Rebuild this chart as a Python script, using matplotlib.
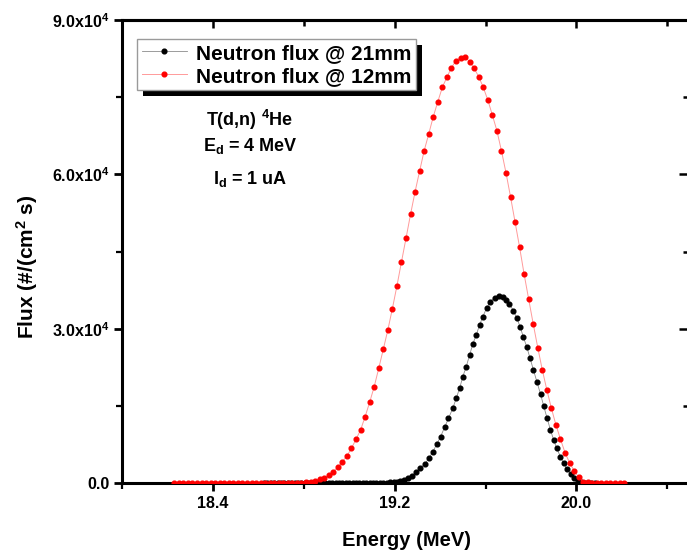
import matplotlib
matplotlib.use("Agg")
import matplotlib.pyplot as plt
from matplotlib.patches import Rectangle
from matplotlib.ticker import MultipleLocator, FuncFormatter
from matplotlib.transforms import IdentityTransform

# Neutron flux @ 12mm (red)
red_energy = [
    18.23, 18.25, 18.27, 18.29, 18.31, 18.33, 18.35, 18.37, 18.39, 18.41,
    18.43, 18.45, 18.47, 18.49, 18.51, 18.53, 18.55, 18.57, 18.59, 18.61,
    18.63, 18.65, 18.67, 18.69, 18.71, 18.73, 18.75, 18.77, 18.79, 18.81,
    18.83, 18.85, 18.87, 18.89, 18.91, 18.93, 18.95, 18.97, 18.99, 19.01,
    19.03, 19.05, 19.07, 19.09, 19.11, 19.13, 19.15, 19.17, 19.19, 19.21,
    19.23, 19.25, 19.27, 19.29, 19.31, 19.33, 19.35, 19.37, 19.39, 19.41,
    19.43, 19.45, 19.47, 19.49, 19.51, 19.53, 19.55, 19.57, 19.59, 19.61,
    19.63, 19.65, 19.67, 19.69, 19.71, 19.73, 19.75, 19.77, 19.79, 19.81,
    19.83, 19.85, 19.87, 19.89, 19.91, 19.93, 19.95, 19.97, 19.99, 20.01,
    20.03, 20.05, 20.07, 20.09, 20.11, 20.13, 20.15, 20.17, 20.19, 20.21,
]
red_flux = [
    0, 0, 0, 0, 0, 0, 0, 0, 0, 0,
    0, 0, 0, 0, 0, 0, 0, 0, 0, 0,
    0, 0, 0, 5, 10, 15, 25, 40, 70, 120,
    200, 450, 720, 1030, 1560, 2200, 3050, 4140, 5250, 6750,
    8500, 10300, 12890, 15690, 18720, 22300, 25990, 29740, 33880, 38300,
    42960, 47570, 52230, 56630, 60650, 64600, 67840, 71210, 74120, 76920,
    78870, 80730, 82100, 82700, 82800, 81900, 80610, 78980, 76920, 74450,
    71540, 68490, 64600, 60320, 55650, 50740, 45820, 40570, 35710, 30910,
    26300, 21970, 18080, 14520, 11280, 8500, 5890, 3950, 2390, 1110,
    250, 100, 40, 15, 5, 0, 0, 0, 0, 0,
]

# Neutron flux @ 21mm (black)
black_energy = [
    18.625, 18.640, 18.655, 18.670, 18.685, 18.700, 18.715, 18.730, 18.745, 18.760,
    18.775, 18.790, 18.805, 18.820, 18.835, 18.850, 18.865, 18.880, 18.895, 18.910,
    18.925, 18.940, 18.955, 18.970, 18.985, 19.000, 19.015, 19.030, 19.045, 19.060,
    19.075, 19.090, 19.105, 19.120, 19.135, 19.150, 19.165, 19.180, 19.195, 19.210,
    19.225, 19.240, 19.258, 19.278, 19.295, 19.313, 19.332, 19.351, 19.368, 19.386,
    19.402, 19.420, 19.437, 19.456, 19.471, 19.486, 19.500, 19.515, 19.530, 19.544,
    19.559, 19.574, 19.588, 19.606, 19.621, 19.640, 19.658, 19.676, 19.691, 19.705,
    19.723, 19.738, 19.753, 19.767, 19.782, 19.796, 19.811, 19.826, 19.842, 19.856,
    19.871, 19.886, 19.900, 19.913, 19.930, 19.944, 19.959, 19.977, 19.991, 20.006,
    20.021, 20.036, 20.051, 20.066, 20.081,
]
black_flux = [
    0, 0, 0, 0, 0, 0, 0, 0, 0, 0,
    0, 0, 0, 0, 0, 0, 0, 0, 0, 0,
    0, 0, 0, 0, 0, 0, 0, 0, 0, 0,
    0, 0, 5, 15, 25, 40, 60, 100, 160, 250,
    380, 580, 910, 1420, 2080, 2860, 3690, 4800, 6090, 7580,
    9000, 10830, 12580, 14520, 16470, 18410, 20670, 22610, 24880, 27020,
    28770, 30720, 32330, 34100, 35250, 36050, 36350, 36150, 35600, 34740,
    33500, 32020, 30270, 28320, 26380, 24240, 21970, 19690, 17300, 14970,
    12580, 10300, 8360, 6750, 5110, 3830, 2660, 1690, 910, 450,
    200, 80, 30, 10, 0,
]

labels = ["Neutron flux @ 21mm", "Neutron flux @ 12mm"]
notes = [r"T(d,n) $^\mathbf{4}$He", r"E$_\mathbf{d}$ = 4 MeV", r"I$_\mathbf{d}$ = 1 uA"]

plt.rcParams.update(
    {
        "font.family": "Liberation Sans",
        "font.weight": "bold",
        "mathtext.fontset": "custom",
        "mathtext.rm": "Liberation Sans:bold",
        "mathtext.bf": "Liberation Sans:bold",
        "mathtext.it": "Liberation Sans:bold:italic",
    }
)

W, H = 687, 555
fig = plt.figure(figsize=(W / 100, H / 100), dpi=100)
# axes runs past the right edge of the picture, as in the source
ax = fig.add_axes([122 / W, (H - 483) / H, 568 / W, 463 / H])

ax.plot(black_energy, black_flux, color="#8c8c8c", lw=0.6, marker="o", ms=3.4,
        mfc="black", mec="black", label=labels[0], zorder=3)
ax.plot(red_energy, red_flux, color="#ff9a9a", lw=0.7, marker="o", ms=3.4,
        mfc="red", mec="red", label=labels[1], zorder=4)

ax.set_xlim(18.0, 20.5)
ax.set_ylim(0, 90000)

ax.xaxis.set_major_locator(MultipleLocator(0.8))
ax.xaxis.set_minor_locator(MultipleLocator(0.4))
ax.yaxis.set_major_locator(MultipleLocator(30000))
ax.yaxis.set_minor_locator(MultipleLocator(15000))
ax.xaxis.set_major_formatter(FuncFormatter(lambda v, p: f"{v:.1f}"))
ax.yaxis.set_major_formatter(
    FuncFormatter(lambda v, p: "0.0" if v == 0 else f"{v / 1e4:.1f}x10$^\\mathbf{{4}}$")
)
ax.tick_params(which="major", direction="out", length=6, width=2, labelsize=11.5, pad=3)
ax.tick_params(which="minor", direction="out", length=4, width=1.6)

for s in ax.spines.values():
    s.set_linewidth(2.2)

secx = ax.secondary_xaxis("top")
secx.xaxis.set_major_locator(MultipleLocator(0.8))
secx.xaxis.set_minor_locator(MultipleLocator(0.4))
secx.tick_params(which="both", direction="in", labeltop=False, width=1.8)
secx.tick_params(which="major", length=6)
secx.tick_params(which="minor", length=4)
secx.spines["top"].set_linewidth(2.2)

secy = ax.secondary_yaxis("right")
secy.yaxis.set_major_locator(MultipleLocator(30000))
secy.yaxis.set_minor_locator(MultipleLocator(15000))
secy.tick_params(which="both", direction="in", labelright=False, width=1.8)
secy.tick_params(which="major", length=8)
secy.tick_params(which="minor", length=5)

fig.text(406 / W, 1 - 540 / H, "Energy (MeV)", ha="center", va="center", fontsize=14.5)
fig.text(27 / W, 1 - 267 / H, r"Flux (#/(cm$^\mathbf{2}$ s)", ha="center", va="center",
         rotation=90, fontsize=15)

for txt, yy in zip(notes, [120, 146, 179]):
    fig.text(250 / W, 1 - yy / H, txt, ha="center", va="center", fontsize=13)

leg = ax.legend(loc="upper left", bbox_to_anchor=((137 - 122) / 568, (483 - 39) / 463),
                borderaxespad=0, fontsize=15, handlelength=2.2, handletextpad=0.4,
                labelspacing=0.2, borderpad=0.22, fancybox=False, framealpha=1,
                edgecolor="#9a9a9a")
leg.get_frame().set_linewidth(1.0)
leg.set_zorder(6)

# offset black shadow under the legend box
fig.canvas.draw()
bb = leg.get_window_extent()
ax.add_patch(Rectangle((bb.x0 + 6, bb.y0 - 6), bb.width, bb.height, transform=IdentityTransform(),
                       facecolor="black", edgecolor="none", zorder=5.5, clip_on=False))

fig.savefig("out.png", dpi=100)
